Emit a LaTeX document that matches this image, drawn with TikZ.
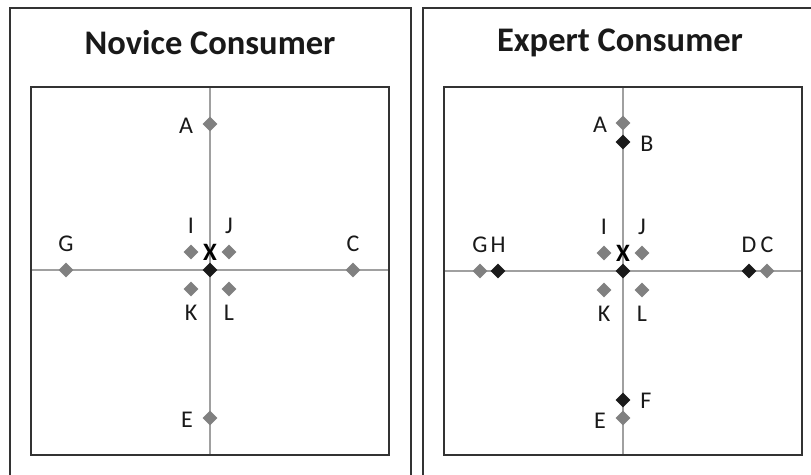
\documentclass[tikz,border=0pt]{standalone}
\usepackage{fontspec}
\setmainfont{Carlito}
\usetikzlibrary{shapes.geometric}
\definecolor{boxc}{HTML}{333333}
\definecolor{axisc}{HTML}{A0A0A0}
\definecolor{grayd}{HTML}{808080}
\definecolor{blackd}{HTML}{1A1A1A}
\tikzset{
  outerbox/.style={draw=boxc, line width=2.4pt},
  innerbox/.style={draw=boxc, line width=2pt},
  axisline/.style={draw=axisc, line width=1.4pt},
  gd/.style={diamond, fill=grayd, minimum size=15pt, inner sep=0pt},
  bd/.style={diamond, fill=blackd, minimum size=15pt, inner sep=0pt},
  lbl/.style={font=\fontsize{24}{24}\selectfont, text=black!90, inner sep=0pt},
  xlbl/.style={font=\fontsize{25}{25}\selectfont\bfseries, text=black, inner sep=0pt},
  ttl/.style={font=\fontsize{34.5}{34.5}\selectfont\bfseries, text=black!90, inner sep=0pt}
}
\begin{document}
\begin{tikzpicture}[x=1pt,y=-1pt]
\useasboundingbox (0,0) rectangle (811,474);
\clip (0,0) rectangle (811,474);
\fill[white] (0,0) rectangle (811,474);
% outer boxes
\draw[outerbox] (10,8) rectangle (411,500);
\draw[outerbox] (423,8) rectangle (834,500);
% titles
\node[ttl] (t1) at (210,43) {Novice Consumer};
\node[ttl] (t2) at (620,43) {Expert Consumer};
% ===== Left panel =====
\coordinate (Lt) at (210,87);
\coordinate (Lb) at (210,455);
\coordinate (Ll) at (31,270);
\coordinate (Lr) at (389,270);
\draw[axisline] (Lt) -- (Lb);
\draw[axisline] (Ll) -- (Lr);
\draw[innerbox] (31,87) rectangle (389,455);
\node[gd] (LA) at (210,124) {};
\node[gd] (LG) at (66,270) {};
\node[gd] (LC) at (353,270) {};
\node[gd] (LE) at (210,418) {};
\node[gd] (LI) at (191,252) {};
\node[gd] (LJ) at (229,252) {};
\node[gd] (LK) at (191,289) {};
\node[gd] (LL) at (229,289) {};
\node[bd] (LX) at (210,270) {};
\node[lbl] (lA) at (186,126) {A};
\node[lbl] (lG) at (66,244) {G};
\node[lbl] (lC) at (353,244) {C};
\node[lbl] (lE) at (187,420) {E};
\node[lbl] (lI) at (191,226) {I};
\node[lbl] (lJ) at (229,226) {J};
\node[lbl] (lK) at (191,313) {K};
\node[lbl] (lL) at (229,313) {L};
\node[xlbl] (lX) at (210,252) {X};
% ===== Right panel =====
\coordinate (Rt) at (623,87);
\coordinate (Rb) at (623,455);
\coordinate (Rl) at (444,271);
\coordinate (Rr) at (802,271);
\draw[axisline] (Rt) -- (Rb);
\draw[axisline] (Rl) -- (Rr);
\draw[innerbox] (444,87) rectangle (802,455);
\node[gd] (RA) at (623,123) {};
\node[bd] (RB) at (623,142) {};
\node[gd] (RG) at (480,271) {};
\node[bd] (RH) at (498,271) {};
\node[bd] (RD) at (749,271) {};
\node[gd] (RC) at (767,271) {};
\node[bd] (RF) at (623,400) {};
\node[gd] (RE) at (623,418) {};
\node[gd] (RI) at (604,253) {};
\node[gd] (RJ) at (642,253) {};
\node[gd] (RK) at (604,290) {};
\node[gd] (RL) at (642,290) {};
\node[bd] (RX) at (623,271) {};
\node[lbl] (rA) at (600,125) {A};
\node[lbl] (rB) at (647,144) {B};
\node[lbl] (rG) at (480,245) {G};
\node[lbl] (rH) at (498,245) {H};
\node[lbl] (rD) at (749,245) {D};
\node[lbl] (rC) at (767,245) {C};
\node[lbl] (rF) at (646,401) {F};
\node[lbl] (rE) at (600,421) {E};
\node[lbl] (rI) at (604,227) {I};
\node[lbl] (rJ) at (642,227) {J};
\node[lbl] (rK) at (604,314) {K};
\node[lbl] (rL) at (642,314) {L};
\node[xlbl] (rX) at (623,253) {X};
\end{tikzpicture}
\end{document}
